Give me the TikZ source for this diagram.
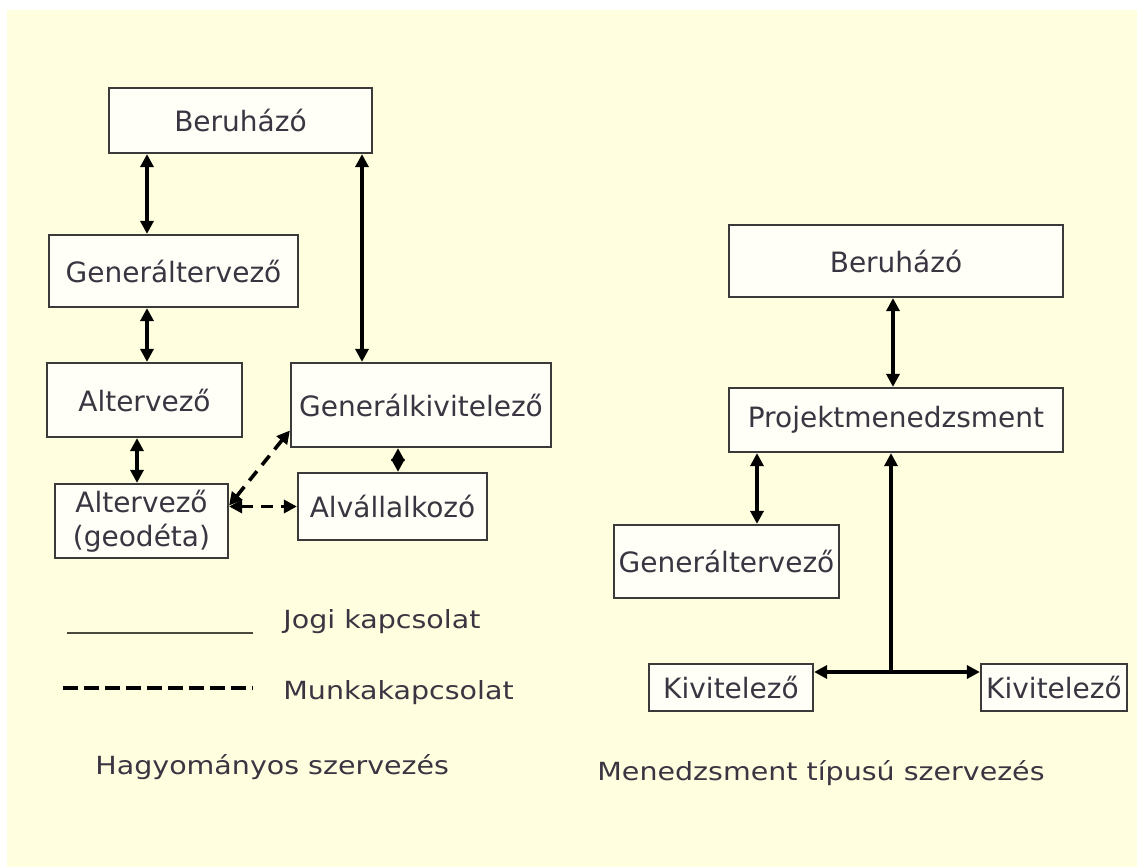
\documentclass[tikz,border=0pt]{standalone}
\usepackage{fontspec}
\setmainfont{DejaVu Sans}
\newfontfamily\legendfont[FakeStretch=1.14]{DejaVu Sans}
\usetikzlibrary{arrows.meta}

\definecolor{cream}{HTML}{FFFFE0}
\definecolor{boxfill}{HTML}{FFFFF7}
\definecolor{textgray}{HTML}{3B3542}
\definecolor{edgegray}{HTML}{3A3A3A}
\definecolor{olivegray}{HTML}{4A4A3C}

\tikzset{
  hegy/.tip={Triangle[length=6.5pt,width=6.5pt]},
  box/.style={draw=edgegray, line width=1.1pt, fill=boxfill, inner sep=0pt, text=textgray,
    font=\fontsize{14pt}{17pt}\selectfont, align=center},
  jogi/.style={line width=1.8pt, hegy-hegy},
  jogiegy/.style={line width=1.8pt, -hegy},
  munka/.style={jogi, dash pattern=on 6pt off 4pt},
  caption/.style={anchor=west, inner sep=0pt, text=textgray,
    font=\legendfont\fontsize{12.5pt}{15pt}\selectfont}
}

\begin{document}
\begin{tikzpicture}[x=0.5pt, y=-0.5pt]
\useasboundingbox (0,0) rectangle (1137,867);
% Background
\fill[cream] (7,10) rectangle (1137,867);

% Hagyomanyos szervezes
\node[box, minimum width=131.5pt, minimum height=32.5pt] (ber1) at (240.5,120.5) {Beruházó};
\node[box, minimum width=124.5pt, minimum height=36pt] (gt1) at (173.5,271) {Generáltervező};
\node[box, minimum width=97.5pt, minimum height=37pt] (at1) at (144.5,400) {Altervező};
\node[box, minimum width=130pt, minimum height=42pt] (gk1) at (421,405) {Generálkivitelező};
\node[box, minimum width=86.5pt, minimum height=37pt] (geo) at (141.5,521) {Altervező\\(geodéta)};
\node[box, minimum width=94.5pt, minimum height=33.5pt] (alv) at (392.5,506.5) {Alvállalkozó};

\coordinate (xa) at (147,0);
\coordinate (xb) at (362,0);
\coordinate (xc) at (137,0);
\coordinate (xd) at (398,0);

\draw[jogi] (ber1.south -| xa) -- (gt1.north -| xa);
\draw[jogi] (ber1.south -| xb) -- (gk1.north -| xb);
\draw[jogi] (gt1.south -| xa) -- (at1.north -| xa);
\draw[jogi] (at1.south -| xc) -- (geo.north -| xc);
\draw[jogi] (gk1.south -| xd) -- (alv.north -| xd);
\draw[munka] (geo.10) -- (gk1.191);
\draw[munka] (alv.west -| geo.east) -- (alv.west);

% Menedzsment tipusu szervezes
\node[box, minimum width=167pt, minimum height=36pt] (ber2) at (896,261) {Beruházó};
\node[box, minimum width=167pt, minimum height=32pt] (pm) at (896,420) {Projektmenedzsment};
\node[box, minimum width=112.5pt, minimum height=36.5pt] (gt2) at (726.5,561.5) {Generáltervező};
\node[box, minimum width=82pt, minimum height=23.5pt] (kiv1) at (731,687.5) {Kivitelező};
\node[box, minimum width=73pt, minimum height=23.5pt] (kiv2) at (1054,687.5) {Kivitelező};

\coordinate (xe) at (757,0);
\coordinate (xf) at (893,0);
\coordinate (jn) at (891,672);

\draw[jogi] (ber2.south -| xf) -- (pm.north -| xf);
\draw[jogi] (pm.south -| xe) -- (gt2.north -| xe);
\draw[jogi] (kiv1.east |- jn) -- (kiv2.west |- jn);
\draw[jogiegy] (jn) -- (pm.south -| jn);

% Legend
\draw[olivegray, line width=1.4pt] (67,633) -- (253,633);
\draw[black, line width=2pt, dash pattern=on 7.5pt off 3pt] (63,688) -- (253,688);
\node[caption] (jogil) at (283,622) {Jogi kapcsolat};
\node[caption] (munkal) at (283,693) {Munkakapcsolat};

% Captions
\node[caption] (hagy) at (95,767) {Hagyományos szervezés};
\node[caption] (menedzs) at (597,773) {Menedzsment típusú szervezés};
\end{tikzpicture}
\end{document}
